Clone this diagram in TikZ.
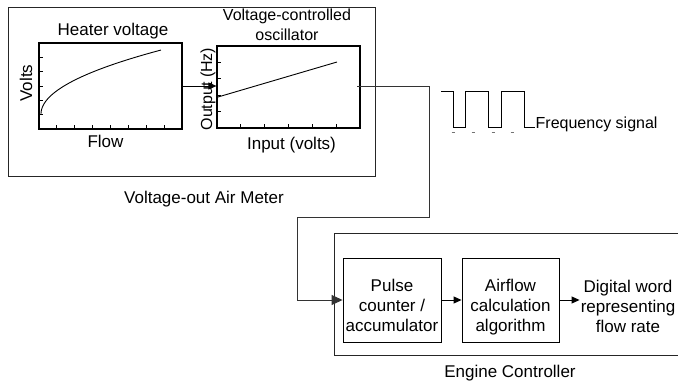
\documentclass[tikz,border=0pt]{standalone}
\usepackage{fontspec}
\setmainfont{Liberation Sans}
\usetikzlibrary{arrows.meta, positioning, calc}

\begin{document}
\begin{tikzpicture}[
  x=1pt, y=-1pt,
  every node/.style={font=\fontsize{17}{20}\selectfont},
  small/.style={font=\fontsize{16}{20}\selectfont},
  frame/.style={draw, line width=0.8pt, black!85},
  graph/.style={draw, line width=1.2pt, minimum width=143pt, inner sep=0pt},
  block/.style={draw, line width=0.9pt, minimum width=98pt, minimum height=84pt, align=center, inner sep=0pt, text height=62pt, text depth=0pt},
  lbl/.style={align=center, inner sep=1pt},
  tick/.style={line width=0.8pt},
  arr/.style={-{Triangle[length=8pt,width=7pt]}, line width=0.9pt},
]
  \useasboundingbox (0,0) rectangle (678,384);

  % Air meter
  \node[frame, minimum width=367pt, minimum height=169pt] (meter) at (191.5,91.5) {};
  \node[lbl] (meterlbl) at (204,199) {Voltage-out Air Meter};

  % Heater voltage graph
  \node[graph, minimum height=86pt] (heat) at (110.5,86) {};
  \node[lbl] (heatlbl) at (113,31) {Heater voltage};
  \node[lbl, rotate=90] (volts) at (26,83) {Volts};
  \node[lbl] (flow) at (105.5,141) {Flow};
  \foreach \k in {1,...,7} \draw[tick] (39+17.875*\k,129) -- ++(0,-4);
  \foreach \k in {1,...,5} \draw[tick] (39,129-14.333*\k) -- ++(4,0);
  \draw[line width=0.9pt] plot[domain=0:10.954, samples=60, smooth] ({41+\x*\x},{114-5.84*\x});

  % Oscillator graph
  \node[graph, minimum height=82pt] (vco) at (288.5,87) {};
  \node[lbl, small] (vcolbl) at (287,25) {Voltage-controlled\\oscillator};
  \node[lbl, small, rotate=90] (hz) at (208,89) {Output (Hz)};
  \node[lbl] (input) at (291.5,145) {Input (volts)};
  \foreach \k in {1,...,5} \draw[tick] (217+23.833*\k,128) -- ++(0,-4);
  \foreach \k in {1,...,4} \draw[tick] (217,128-16.4*\k) -- ++(4,0);
  \draw[line width=0.9pt] (218,97) -- (337,62);

  \draw[arr] (heat.east) -- (heat.east -| vco.west);

  % Frequency signal
  \draw[line width=0.9pt] (441,91) -- (453,91) -- (453,127) -- (465,127) -- (465,91) -- (488,91) -- (488,127)
    -- (501,127) -- (501,91) -- (524,91) -- (524,127) -- (535,127);
  \foreach \x in {453,473,493,512} \draw[black!55, line width=1pt] (\x-1.5,132) -- (\x+1.5,132);
  \node[small, anchor=west, inner sep=0.5pt] (freq) at (535,124) {Frequency signal};

  % Engine controller
  \draw[frame] (678,233) -| (334,355) -- (678,355);
  \node[lbl] (ecu) at (510,373) {Engine Controller};
  \node[block] (pulse) at (392,300) {Pulse\\counter /\\accumulator};
  \node[block, minimum width=97pt] (air) at (510.5,300) {Airflow\\calculation\\algorithm};
  \node[lbl] (word) at (628,306) {Digital word\\representing\\flow rate};

  % Connections
  \coordinate (vout) at (357,86);
  \draw[black!80, line width=0.9pt, -{Triangle[length=11pt,width=10pt]}] (vout) -- (429,86) -- (429,217) -- (297,217) |- (pulse.west);
  \draw[arr] (pulse) -- (air);
  \draw[arr] (air.east) -- (air.east -| word.west);

\end{tikzpicture}
\end{document}
